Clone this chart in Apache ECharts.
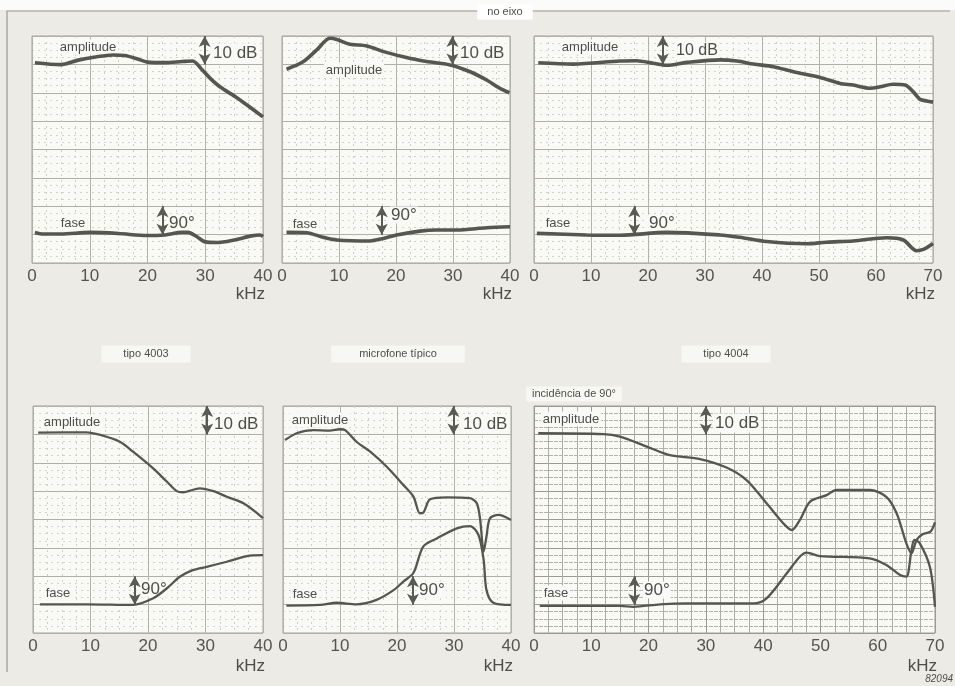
<!DOCTYPE html>
<html>
<head>
<meta charset="utf-8">
<script src="https://cdn.jsdelivr.net/npm/echarts@6/dist/echarts.min.js"></script>
<style>
html,body{margin:0;padding:0;background:#ecebe5;}
#chart{width:955px;height:686px;}
</style>
</head>
<body>
<div id="chart"></div>
<script>
// ---- data: [kHz, amplitude dB] and [kHz, phase degrees] ----
const ticks40 = [0, 10, 20, 30, 40];
const ticks70 = [0, 10, 20, 30, 40, 50, 60, 70];

// "no eixo" (on axis)
const ampA = [[0.5,0.6],[5,-0.1],[8,1.5],[11,2.6],[14,3.3],[16,3.1],[18,2.1],[20,0.8],[23,0.6],[26,1.0],[27.8,1.2],[29.5,-2.0],[31,-5.2],[32.6,-8.0],[35.6,-11.9],[38.4,-16.1],[40,-18.5]];
const phaseA = [[0.5,7],[2,2],[5,2],[10,7],[15,3.5],[20,-3],[23,-1],[26,7],[27,7],[28.5,-6],[30,-23],[32,-25],[35,-17],[38,-4],[39.5,-1],[40,-6]];
const ampB = [[0.8,-1.7],[3.7,0.9],[6.1,5.1],[8.4,9.2],[9.6,8.8],[11.9,7.1],[14.9,6.5],[17.8,4.5],[21.3,2.7],[24.8,1.2],[29.5,-0.2],[33,-2.6],[35.9,-5.5],[38.2,-8.4],[39.9,-10]];
const phaseB = [[0.8,7],[4.3,6],[7.2,-8.5],[9.6,-17],[15.4,-20],[17.8,-12],[20.1,-1],[24.2,11],[27.1,14.5],[30.6,14.5],[35.9,21.6],[40,25]];
const ampC = [[0.75,0.6],[6.9,0.1],[15.1,1.2],[18,1.3],[20.9,0.4],[23.3,-0.3],[26.8,0.7],[32.6,1.6],[35.6,1.2],[38.5,0.1],[42,-0.8],[45.5,-2.6],[50.2,-4.6],[53.7,-6.7],[56,-7.3],[59,-8.4],[60.7,-7.9],[63,-7],[65.1,-7.3],[66.5,-9.6],[67.7,-12.3],[68.9,-12.9],[70,-13.3]];
const phaseC = [[0.5,4],[9.2,-1],[15.1,-2],[23.3,7],[32.6,-1],[36.1,-8.6],[40.8,-22],[47.8,-29],[51.3,-24],[56,-20],[61.9,-10],[64.8,-17],[67.1,-51],[68.3,-47],[70,-28]];

// "incidência de 90°"
const ampD = [[0.9,0.6],[9.3,0.7],[11.7,-0.2],[15.1,-2.6],[17.4,-6.1],[20.9,-12],[23.3,-16.7],[25,-20],[26.1,-20.4],[29,-19],[31.4,-20],[33.7,-22],[36.6,-24.3],[40,-29.5]];
const phaseD = [[1.2,1],[9.3,1],[17.4,-1],[20.9,20],[23.3,52],[25.6,89],[27.9,110],[30.2,120],[33.7,136],[37.2,154],[40,157]];
const ampE = [[0.35,-2],[2.4,0.4],[5.3,1.5],[8.2,1.3],[10,1.8],[10.9,1.5],[12.9,-2.6],[15.3,-6.1],[18.2,-11.4],[21.1,-17.8],[22.9,-22],[24,-27.8],[24.6,-27.6],[25.8,-22.9],[28.7,-22.2],[32.8,-22.5],[34,-24.3],[34.6,-30.2],[35.2,-41.3],[35.7,-36],[36.3,-29.6],[37.8,-28.4],[40,-30.2]];
const phaseE = [[0.6,-3],[6.5,-1],[9.4,6],[12.9,1],[16.4,15],[19.4,46],[21.1,73],[22.9,101],[24.6,184],[27,210],[30.5,242],[32.8,249],[34.3,221],[35.2,142],[35.7,46],[36.9,6],[40,-1]];
const ampF = [[0.75,0.4],[12.1,0.1],[15,-0.8],[19.7,-4.3],[23.7,-7.3],[29,-8.7],[33.6,-11.7],[37.1,-16.1],[40.6,-24.3],[43.5,-31.3],[45,-33.7],[46.4,-30.2],[48.2,-23.7],[51.1,-21.4],[52.8,-19.6],[58.6,-19.6],[61.5,-22],[63.3,-27.8],[65,-38.4],[65.9,-41.9],[66.8,-37.2],[67.9,-35.1],[69.2,-34.3],[70,-31]];
const phaseF = [[1,-4],[15,-4],[17.3,-7],[22,1],[26.6,4],[38.3,4],[40.6,20],[44.1,99],[46.4,152],[47.6,165],[49.9,154],[58.6,147],[61.5,126],[63.9,94],[65,89],[65.9,173],[66.4,205],[67.3,196],[69.1,120],[70,-7]];

// ---- texts ----
const topTitle = 'no eixo';
const bottomTitle = 'incidência de 90°';
const typeLabels = ['tipo 4003', 'microfone típico', 'tipo 4004'];
const ampLabel = 'amplitude';
const phaseLabel = 'fase';
const dbLabel = '10 dB';
const degLabel = '90°';
const unitLabel = 'kHz';
const figNo = '82094';

// ---- layout (pixels) ----
const FONT = '"Liberation Sans", Arial, Helvetica, sans-serif';
const NARROW = '"Liberation Sans Narrow", "Liberation Sans", Arial, sans-serif';
const panels = [
  {amp: ampA, phase: phaseA, ticks: ticks40, box: [32, 36, 231, 227], lw: 3.6, dbX: 29.9, degX: 22.6,
   ampPos: [88, 47], dbPos: [211, 53], fasePos: [73, 223], degPos: [168, 223], khzPos: [265, 294], dense: false},
  {amp: ampB, phase: phaseB, ticks: ticks40, box: [282, 36, 228, 227], lw: 3.6, dbX: 29.9, degX: 17.5,
   ampPos: [354, 70], dbPos: [458, 53], fasePos: [305, 224], degPos: [390, 215], khzPos: [512, 294], dense: false},
  {amp: ampC, phase: phaseC, ticks: ticks70, box: [534, 36, 399, 227], lw: 3.6, dbX: 22.6, degX: 17.6,
   ampPos: [590, 47], dbPos: [674, 51], fasePos: [558, 223], degPos: [648, 223], khzPos: [935, 294], dense: false},
  {amp: ampD, phase: phaseD, ticks: ticks40, box: [33, 406, 230, 227], lw: 2.3, dbX: 30.3, degX: 17.7,
   ampPos: [72, 422], dbPos: [212, 424], fasePos: [58, 593], degPos: [140, 589], khzPos: [265, 666], dense: false},
  {amp: ampE, phase: phaseE, ticks: ticks40, box: [283, 406, 228, 227], lw: 2.3, dbX: 29.9, degX: 22.8,
   ampPos: [320, 420], dbPos: [461, 424], fasePos: [305, 594], degPos: [418, 590], khzPos: [513, 666], dense: false},
  {amp: ampF, phase: phaseF, ticks: ticks70, box: [534, 406, 401, 227], lw: 2.3, dbX: 30, degX: 17.5,
   ampPos: [571, 419], dbPos: [713, 423], fasePos: [556, 593], degPos: [643, 590], khzPos: [937, 666], dense: true}
];

const LINE = '#55574f';
const INK = '#4f4f4a';
const PLOTBG = '#f9f9f6';

const grids = [], xAxes = [], yAxes = [], series = [], graphics = [];

function txt(text, x, y, size, align, opts) {
  opts = opts || {};
  return {
    type: 'text', z: opts.z || 5, silent: true,
    style: Object.assign({
      text: text, x: x, y: y, font: (opts.style || '') + ' ' + size + 'px ' + (opts.family || FONT),
      fill: opts.fill || INK, align: align, textAlign: align,
      verticalAlign: 'middle', textVerticalAlign: 'middle'
    }, opts.bg ? {backgroundColor: opts.bg, padding: opts.pad || [1, 3]} : {})
  };
}

// frame of the page
graphics.push({type: 'rect', z: 1, silent: true, shape: {x: 0, y: 0, width: 955, height: 10}, style: {fill: '#fbfbf9'}});
graphics.push({type: 'polyline', z: 2, silent: true, shape: {points: [[7, 672], [7, 11], [950, 11]]}, style: {stroke: '#9a9a94', lineWidth: 1.2, fill: null}});

panels.forEach(function (p, i) {
  const xmax = p.ticks[p.ticks.length - 1];
  grids.push({left: p.box[0], top: p.box[1], width: p.box[2], height: p.box[3], show: true,
    backgroundColor: PLOTBG, borderColor: '#a3a39c', borderWidth: 1, containLabel: false});
  xAxes.push({
    type: 'value', gridIndex: i, min: 0, max: xmax, interval: 10,
    axisLine: {show: false}, axisTick: {show: false},
    axisLabel: {show: true, fontSize: 17, color: '#55554f', fontFamily: FONT, margin: 5},
    splitLine: {show: true, lineStyle: {color: p.dense ? '#9a9a93' : '#b3b3ac', width: 1}},
    minorTick: {show: false, splitNumber: 4},
    minorSplitLine: {show: true, lineStyle: {color: p.dense ? '#aeaea6' : '#cfcfc8', width: 1, type: p.dense ? 'solid' : [2, 4]}}
  });
  yAxes.push({
    type: 'value', gridIndex: i, min: -70, max: 10, interval: 10,
    axisLine: {show: false}, axisTick: {show: false}, axisLabel: {show: false},
    splitLine: {show: true, lineStyle: {color: p.dense ? '#9a9a93' : '#b0b0a9', width: 1}},
    minorTick: {show: false, splitNumber: 4},
    minorSplitLine: {show: true, lineStyle: {color: p.dense ? '#b4b4ac' : '#d3d3cc', width: 1, type: p.dense ? [4, 1] : [2, 4]}}
  });
  yAxes.push({
    type: 'value', gridIndex: i, min: -90, max: 630, interval: 90, show: false,
    splitLine: {show: false}
  });
  const arrowML = function (x, y0, y1) {
    return {
      silent: true, symbol: ['arrow', 'arrow'], symbolSize: [9, 11], animation: false,
      lineStyle: {color: '#5a5a55', width: 2, type: 'solid'}, label: {show: false},
      emphasis: {disabled: true},
      data: [[{coord: [x, y0]}, {coord: [x, y1]}]]
    };
  };
  series.push({
    type: 'line', xAxisIndex: i, yAxisIndex: 2 * i, data: p.amp, showSymbol: false, smooth: 0.3,
    lineStyle: {color: LINE, width: p.lw}, itemStyle: {color: LINE}, z: 10, animation: false,
    markLine: arrowML(p.dbX, 10, 0)
  });
  series.push({
    type: 'line', xAxisIndex: i, yAxisIndex: 2 * i + 1, data: p.phase, showSymbol: false, smooth: 0.3,
    lineStyle: {color: LINE, width: p.lw}, itemStyle: {color: LINE}, z: 10, animation: false,
    markLine: arrowML(p.degX, 90, 0)
  });
  graphics.push(txt(ampLabel, p.ampPos[0], p.ampPos[1], 13, 'center', {bg: PLOTBG, pad: [1, 2]}));
  graphics.push(txt(dbLabel, p.dbPos[0], p.dbPos[1], i === 2 ? 16 : 17, 'left', {bg: PLOTBG, pad: [1, 2]}));
  graphics.push(txt(phaseLabel, p.fasePos[0], p.fasePos[1], 13, 'center', {bg: PLOTBG, pad: [1, 2]}));
  graphics.push(txt(degLabel, p.degPos[0], p.degPos[1], 17, 'left', {bg: PLOTBG, pad: [0, 1]}));
  graphics.push(txt(unitLabel, p.khzPos[0], p.khzPos[1], 17, 'right'));
});

// titles and captions
graphics.push(txt(topTitle, 505, 12, 11, 'center', {bg: '#ffffff', pad: [2, 10]}));
graphics.push(txt(typeLabels[0], 146, 354, 11, 'center', {bg: '#f7f7f3', pad: [3, 22], family: NARROW}));
graphics.push(txt(typeLabels[1], 398, 354, 11, 'center', {bg: '#f7f7f3', pad: [3, 28], family: NARROW}));
graphics.push(txt(typeLabels[2], 726, 354, 11, 'center', {bg: '#f7f7f3', pad: [3, 22], family: NARROW}));
graphics.push(txt(bottomTitle, 574, 394, 11, 'center', {bg: '#f7f7f3', pad: [2, 6]}));
graphics.push(txt(figNo, 953, 679, 10, 'right', {style: 'italic'}));

const chart = echarts.init(document.getElementById('chart'), null, {renderer: 'canvas'});
chart.setOption({
  animation: false,
  backgroundColor: '#ecebe5',
  grid: grids, xAxis: xAxes, yAxis: yAxes, series: series, graphic: graphics
});
</script>
</body>
</html>
